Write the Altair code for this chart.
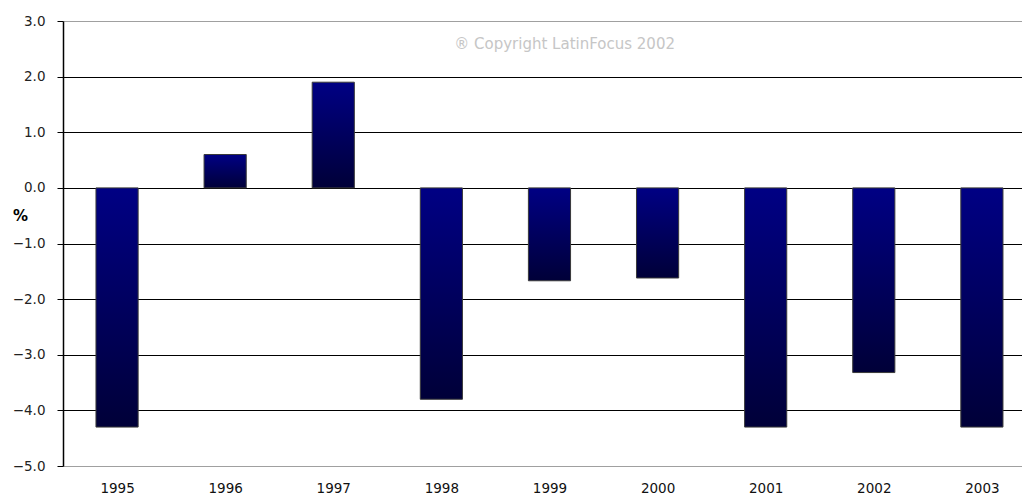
import altair as alt
import pandas as pd

years = [1995, 1996, 1997, 1998, 1999, 2000, 2001, 2002, 2003]
values = [-4.3, 0.6, 1.9, -3.8, -1.67, -1.62, -4.3, -3.32, -4.3]
y_ticks = [3, 2, 1, 0, -1, -2, -3, -4, -5]
note = "® Copyright LatinFocus 2002"

df = pd.DataFrame({"year": years, "value": values})
ann = pd.DataFrame({"year": [1999.14], "value": [2.59], "label": [note]})

x_scale = alt.Scale(domain=[1994.5, 2003.371], nice=False, zero=False)
y_scale = alt.Scale(domain=[-5, 3], nice=False)

grad = alt.Gradient(
    gradient="linear",
    stops=[alt.GradientStop(color="#000084", offset=0),
           alt.GradientStop(color="#000038", offset=1)],
    x1=0, x2=0, y1=0, y2=1,
)

FONT = "DejaVu Sans"

bars = alt.Chart(df).transform_calculate(
    x0="datum.year - 0.195", x1="datum.year + 0.195", base="0"
).mark_bar(color=grad, stroke="#3a3a3a", strokeWidth=1).encode(
    x=alt.X("x0:Q", scale=x_scale, axis=alt.Axis(
        values=years, format="d", title=None, grid=False, ticks=False,
        domain=False, labelFont=FONT, labelFontSize=13.5,
        labelColor="#111111", labelPadding=15)),
    x2="x1:Q",
    y=alt.Y("value:Q", scale=y_scale, axis=alt.Axis(
        values=y_ticks, format=".1f", title="%", titleAngle=0,
        titleX=-43, titleY=194, titleAlign="center", titleBaseline="middle",
        titleFont=FONT, titleFontSize=15, titleFontWeight="bold",
        titleColor="#000000",
        labelFont=FONT, labelFontSize=13.5, labelColor="#222222",
        labelPadding=12,
        grid=True,
        gridColor=alt.condition("datum.value == 3 || datum.value == -5",
                                alt.value("#a0a0a0"), alt.value("#000000")),
        gridWidth=1,
        tickColor="#000000", tickSize=6, domainColor="#000000", domainWidth=1.5)),
    y2="base:Q",
)

text = alt.Chart(ann).mark_text(
    font=FONT, fontSize=15, color="#c6c6c6", baseline="middle"
).encode(
    x=alt.X("year:Q", scale=x_scale),
    y=alt.Y("value:Q", scale=y_scale),
    text="label:N",
)

chart = alt.layer(bars, text).properties(
    width=959, height=445,
    autosize=alt.AutoSizeParams(type="none"),
    padding={"left": 63, "top": 21, "right": 0, "bottom": 29},
    background="#ffffff",
).configure_view(stroke=None)

chart.save("out.html", embed_options={"renderer": "svg", "actions": False})
